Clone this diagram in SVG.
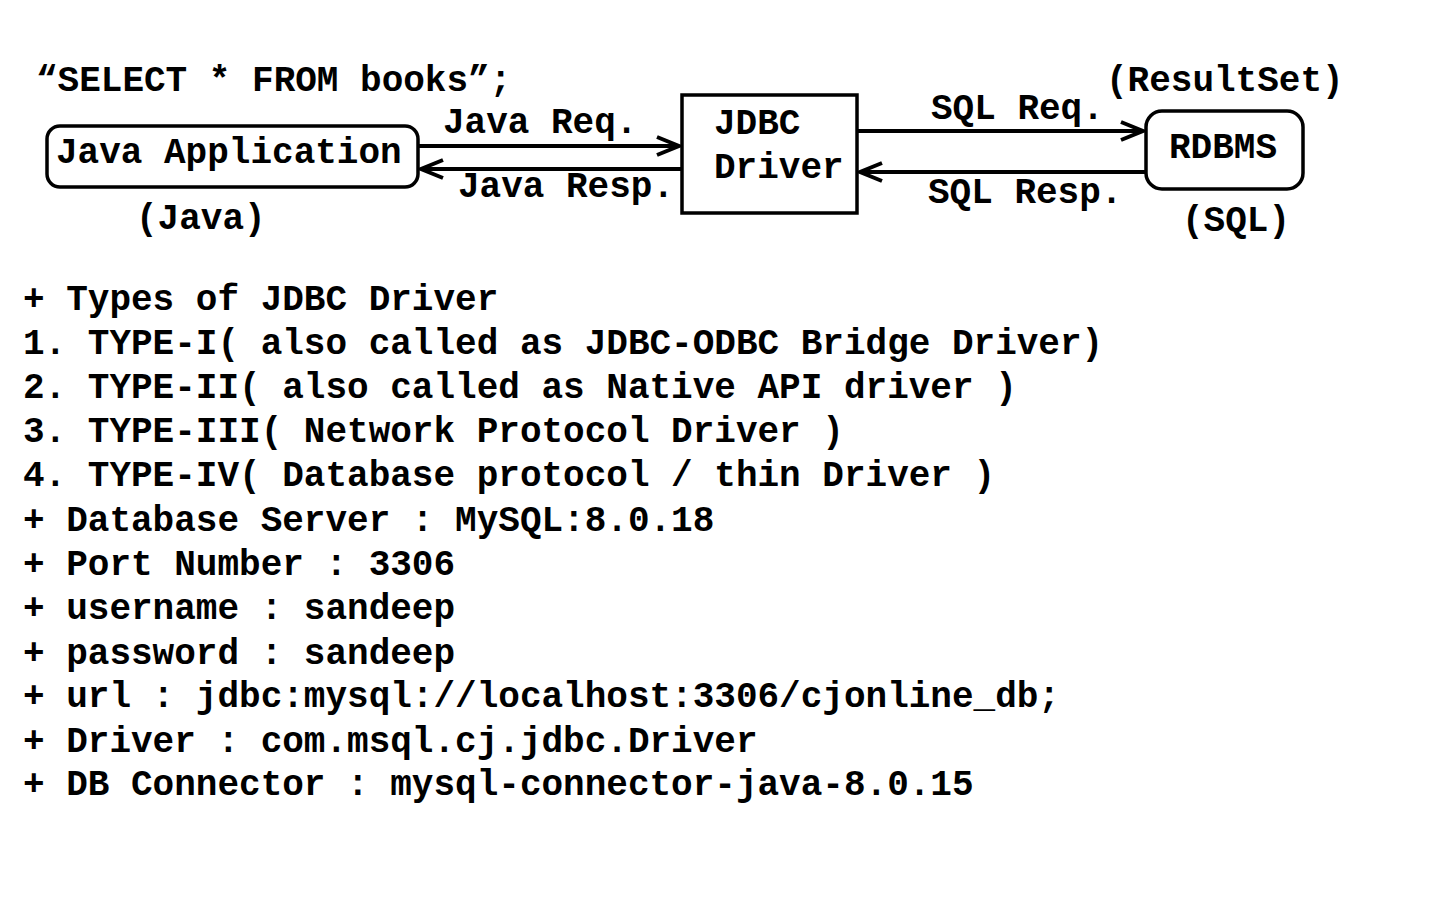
<svg xmlns="http://www.w3.org/2000/svg" width="1440" height="900" viewBox="0 0 1440 900">
<style>
  text { font-family: "Liberation Mono", "Courier New", monospace; font-weight: bold; font-size: 36px; fill: #000; }
  .box { fill: #fff; stroke: #000; stroke-width: 3.5; }
  .conn { stroke: #000; stroke-width: 4; fill: none; }
</style>
<defs>
  <marker id="arrow" viewBox="-26 -13 30 26" refX="0" refY="0" markerWidth="30" markerHeight="26" markerUnits="userSpaceOnUse" orient="auto">
    <path d="M -22 -9 L 0 0 L -22 9" fill="none" stroke="#000" stroke-width="4" stroke-linejoin="miter"/>
  </marker>
</defs>
<rect width="1440" height="900" fill="#fff"/>

<text x="36" y="91">“SELECT * FROM books”;</text>
<text x="1106" y="91">(ResultSet)</text>

<g id="connectors">
  <g id="java-req">
    <line class="conn" x1="418" y1="146" x2="679" y2="146" marker-end="url(#arrow)"/>
    <text x="443" y="133">Java Req.</text>
  </g>
  <g id="java-resp">
    <line class="conn" x1="682" y1="169" x2="421" y2="169" marker-end="url(#arrow)"/>
    <text x="458" y="197">Java Resp.</text>
  </g>
  <g id="sql-req">
    <line class="conn" x1="857" y1="131" x2="1143" y2="131" marker-end="url(#arrow)"/>
    <text x="931" y="119">SQL Req.</text>
  </g>
  <g id="sql-resp">
    <line class="conn" x1="1146" y1="172" x2="860" y2="172" marker-end="url(#arrow)"/>
    <text x="928" y="203">SQL Resp.</text>
  </g>
</g>

<g id="java-app">
  <rect class="box" x="47" y="126" width="371" height="61" rx="13" ry="13"/>
  <text x="56" y="163">Java Application</text>
  <text x="136" y="229">(Java)</text>
</g>

<g id="jdbc-driver">
  <rect class="box" x="682" y="95" width="175" height="118"/>
  <text x="714" y="134">JDBC</text>
  <text x="714" y="178">Driver</text>
</g>

<g id="rdbms">
  <rect class="box" x="1146" y="111" width="157" height="78" rx="16" ry="16"/>
  <text x="1169" y="158">RDBMS</text>
  <text x="1182" y="231">(SQL)</text>
</g>

<g id="notes">
  <text x="23" y="310">+ Types of JDBC Driver</text>
  <text x="23" y="354">1. TYPE-I( also called as JDBC-ODBC Bridge Driver)</text>
  <text x="23" y="398">2. TYPE-II( also called as Native API driver )</text>
  <text x="23" y="442">3. TYPE-III( Network Protocol Driver )</text>
  <text x="23" y="486">4. TYPE-IV( Database protocol / thin Driver )</text>
  <text x="23" y="531">+ Database Server : MySQL:8.0.18</text>
  <text x="23" y="575">+ Port Number : 3306</text>
  <text x="23" y="619">+ username : sandeep</text>
  <text x="23" y="664">+ password : sandeep</text>
  <text x="23" y="707">+ url : jdbc:mysql://localhost:3306/cjonline_db;</text>
  <text x="23" y="752">+ Driver : com.msql.cj.jdbc.Driver</text>
  <text x="23" y="795">+ DB Connector : mysql-connector-java-8.0.15</text>
</g>
</svg>
